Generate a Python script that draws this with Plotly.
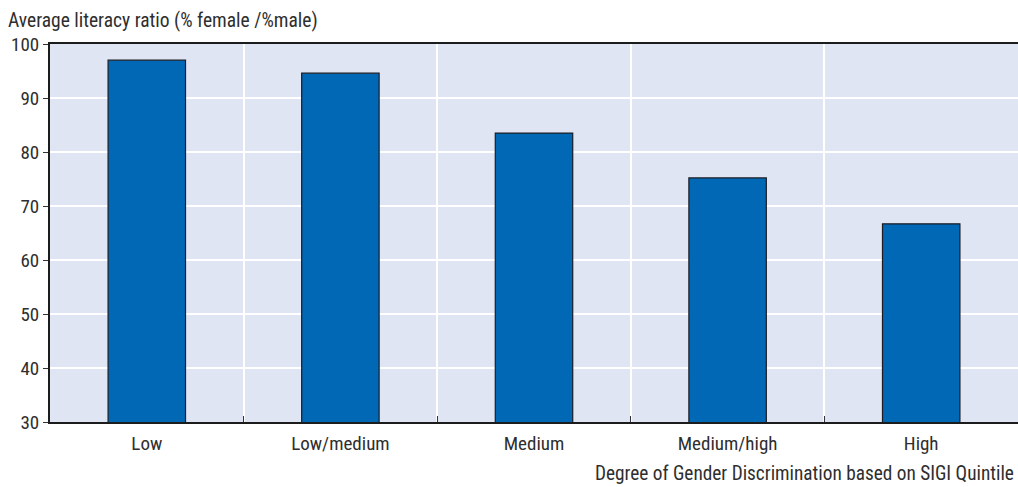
import plotly.graph_objects as go

categories = ["Low", "Low/medium", "Medium", "Medium/high", "High"]
values = [97.0, 94.6, 83.5, 75.2, 66.7]
y_ticks = [30, 40, 50, 60, 70, 80, 90, 100]
y_title = "Average literacy ratio (% female /%male)"
x_title = "Degree of Gender Discrimination based on SIGI Quintile"

FONT = "Liberation Sans Narrow, Arial Narrow, Roboto Condensed, Liberation Sans, sans-serif"
TXT = "#2e2e2e"

fig = go.Figure()
fig.add_trace(go.Bar(
    x=categories, y=values, width=0.4,
    marker=dict(color="#0068b4", line=dict(color="#1c1c24", width=1.2)),
))

fig.update_layout(
    width=1018, height=487,
    margin=dict(l=50, r=0, t=44, b=65),
    plot_bgcolor="#dfe5f3",
    paper_bgcolor="white",
    font=dict(family=FONT, size=19, color=TXT),
    showlegend=False,
    bargap=0.6,
)
fig.update_xaxes(
    type="category",
    showline=True, linecolor="#1c1c1c", linewidth=2, mirror=True,
    showgrid=True, gridcolor="white", gridwidth=1.5,
    ticks="inside", tickson="boundaries", ticklen=6, tickcolor="#333333", tickwidth=1,
    tickfont=dict(family=FONT, size=19, color=TXT),
    ticklabelstandoff=3,
    range=[-0.5, 4.5],
)
fig.update_yaxes(
    range=[30, 100], tickvals=y_ticks,
    showline=True, linecolor="#1c1c1c", linewidth=2,
    showgrid=True, gridcolor="white", gridwidth=1.5,
    ticks="outside", ticklen=5, tickcolor="#333333", tickwidth=1,
    tickfont=dict(family=FONT, size=19, color=TXT),
    zeroline=False,
)
fig.add_annotation(
    text=y_title, xref="paper", yref="paper", x=-50/968, y=1, yshift=10,
    xanchor="left", yanchor="bottom", showarrow=False,
    font=dict(family=FONT, size=19.5, color=TXT), xshift=6,
)
fig.add_annotation(
    text=x_title, xref="paper", yref="paper", x=1, y=0, yshift=-38,
    xanchor="right", yanchor="top", showarrow=False, xshift=-2,
    font=dict(family=FONT, size=19.3, color=TXT),
)
fig.write_html("out.html", config={"displayModeBar": False},
               post_script="document.body.style.margin='0';document.body.style.overflow='hidden';")
